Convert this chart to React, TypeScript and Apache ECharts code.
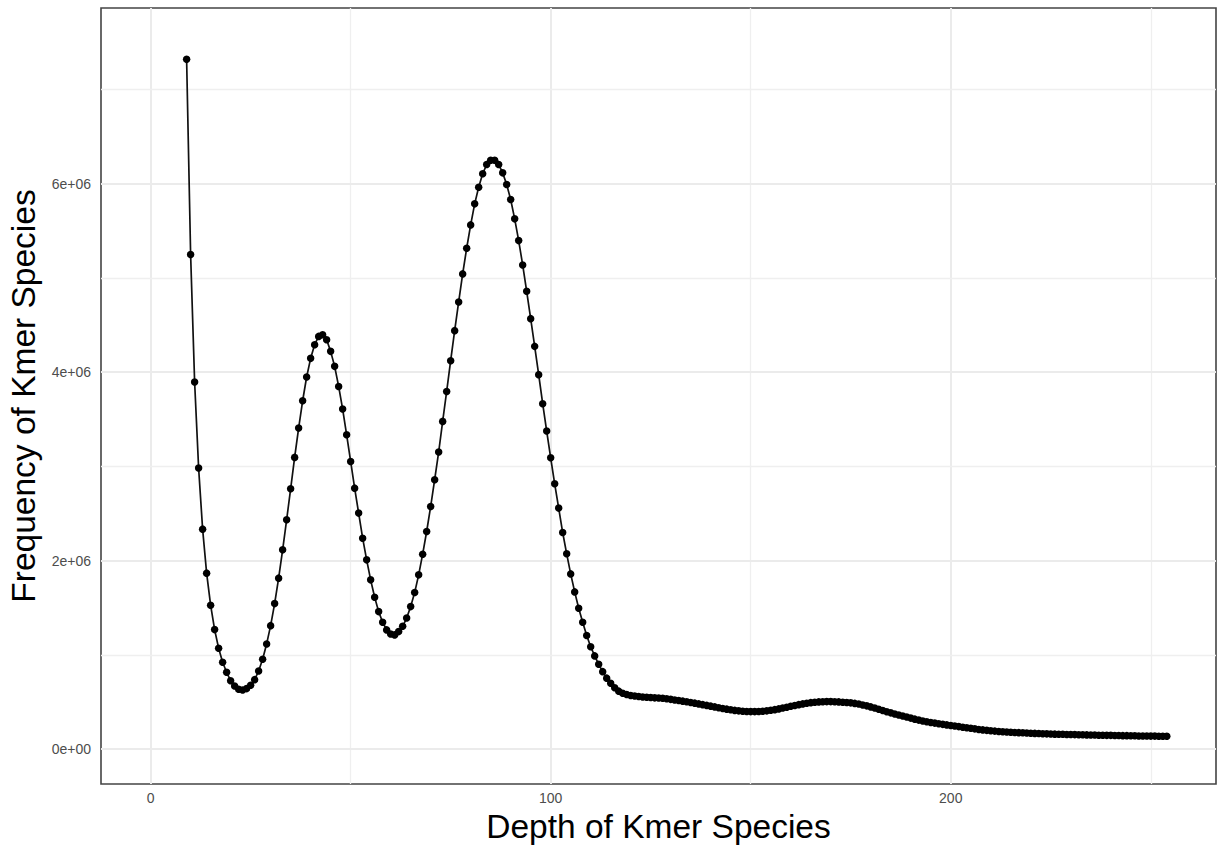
import React, { useEffect, useRef } from "react";
import * as echarts from "echarts";

// Depth of k-mer (x) and frequency in millions (y)
const depth: number[] = [
  9, 10, 11, 12, 13, 14, 15, 16, 17, 18,
  19, 20, 21, 22, 23, 24, 25, 26, 27, 28,
  29, 30, 31, 32, 33, 34, 35, 36, 37, 38,
  39, 40, 41, 42, 43, 44, 45, 46, 47, 48,
  49, 50, 51, 52, 53, 54, 55, 56, 57, 58,
  59, 60, 61, 62, 63, 64, 65, 66, 67, 68,
  69, 70, 71, 72, 73, 74, 75, 76, 77, 78,
  79, 80, 81, 82, 83, 84, 85, 86, 87, 88,
  89, 90, 91, 92, 93, 94, 95, 96, 97, 98,
  99, 100, 101, 102, 103, 104, 105, 106, 107, 108,
  109, 110, 111, 112, 113, 114, 115, 116, 117, 118,
  119, 120, 121, 122, 123, 124, 125, 126, 127, 128,
  129, 130, 131, 132, 133, 134, 135, 136, 137, 138,
  139, 140, 141, 142, 143, 144, 145, 146, 147, 148,
  149, 150, 151, 152, 153, 154, 155, 156, 157, 158,
  159, 160, 161, 162, 163, 164, 165, 166, 167, 168,
  169, 170, 171, 172, 173, 174, 175, 176, 177, 178,
  179, 180, 181, 182, 183, 184, 185, 186, 187, 188,
  189, 190, 191, 192, 193, 194, 195, 196, 197, 198,
  199, 200, 201, 202, 203, 204, 205, 206, 207, 208,
  209, 210, 211, 212, 213, 214, 215, 216, 217, 218,
  219, 220, 221, 222, 223, 224, 225, 226, 227, 228,
  229, 230, 231, 232, 233, 234, 235, 236, 237, 238,
  239, 240, 241, 242, 243, 244, 245, 246, 247, 248,
  249, 250, 251, 252, 253, 254,
];

const freqMillions: number[] = [
  7.317, 5.246, 3.894, 2.981, 2.333, 1.866, 1.526, 1.267, 1.069, 0.921,
  0.814, 0.725, 0.669, 0.634, 0.627, 0.641, 0.676, 0.736, 0.828, 0.952,
  1.115, 1.309, 1.543, 1.813, 2.113, 2.432, 2.761, 3.094, 3.405, 3.695,
  3.947, 4.145, 4.29, 4.378, 4.396, 4.343, 4.219, 4.06, 3.847, 3.607,
  3.334, 3.051, 2.768, 2.503, 2.237, 2.007, 1.795, 1.611, 1.458, 1.345,
  1.264, 1.221, 1.211, 1.246, 1.302, 1.39, 1.511, 1.66, 1.848, 2.067,
  2.308, 2.573, 2.857, 3.151, 3.476, 3.794, 4.12, 4.439, 4.743, 5.041,
  5.313, 5.561, 5.784, 5.961, 6.103, 6.202, 6.247, 6.247, 6.202, 6.113,
  5.989, 5.83, 5.625, 5.394, 5.136, 4.856, 4.566, 4.272, 3.972, 3.664,
  3.374, 3.09, 2.814, 2.556, 2.297, 2.071, 1.858, 1.667, 1.494, 1.345,
  1.205, 1.085, 0.988, 0.899, 0.821, 0.752, 0.698, 0.65, 0.614, 0.592,
  0.578, 0.568, 0.562, 0.557, 0.552, 0.549, 0.546, 0.543, 0.541, 0.538,
  0.533, 0.527, 0.52, 0.514, 0.508, 0.501, 0.494, 0.487, 0.479, 0.471,
  0.463, 0.455, 0.447, 0.438, 0.43, 0.423, 0.416, 0.41, 0.405, 0.401,
  0.398, 0.397, 0.397, 0.398, 0.401, 0.405, 0.411, 0.418, 0.426, 0.435,
  0.444, 0.453, 0.462, 0.471, 0.479, 0.486, 0.492, 0.497, 0.5, 0.502,
  0.503, 0.503, 0.502, 0.5, 0.497, 0.494, 0.49, 0.484, 0.477, 0.468,
  0.458, 0.447, 0.435, 0.422, 0.409, 0.396, 0.384, 0.372, 0.361, 0.35,
  0.339, 0.328, 0.317, 0.307, 0.298, 0.29, 0.282, 0.275, 0.268, 0.262,
  0.256, 0.25, 0.244, 0.238, 0.232, 0.226, 0.22, 0.214, 0.208, 0.203,
  0.198, 0.194, 0.19, 0.186, 0.183, 0.18, 0.178, 0.176, 0.174, 0.172,
  0.17, 0.168, 0.166, 0.164, 0.162, 0.161, 0.16, 0.158, 0.157, 0.156,
  0.155, 0.154, 0.153, 0.152, 0.151, 0.15, 0.149, 0.148, 0.147, 0.146,
  0.145, 0.145, 0.144, 0.143, 0.142, 0.142, 0.141, 0.14, 0.139, 0.139,
  0.138, 0.137, 0.137, 0.136, 0.136, 0.135,
];

// Tick labels and grid positions
const xTicks: number[] = [0, 100, 200];
const xMinorGrid: number[] = [50, 150, 250];
const yTicks: number[] = [0, 2e6, 4e6, 6e6];
const yMinorGrid: number[] = [1e6, 3e6, 5e6, 7e6];

const xTitle = "Depth of Kmer Species";
const yTitle = "Frequency of Kmer Species";

const FONT = "'Liberation Sans', Arial, Helvetica, sans-serif";

function sciLabel(v: number): string {
  const s = v.toExponential();
  const [m, e] = s.split("e");
  const sign = e[0];
  const digits = e.slice(1).padStart(2, "0");
  return `${m}e${sign}${digits}`;
}

export default function App() {
  const ref = useRef<HTMLDivElement>(null);

  useEffect(() => {
    if (!ref.current) return;
    const chart = echarts.init(ref.current, undefined, { renderer: "svg" });

    const points = depth.map((d, i) => [d, freqMillions[i] * 1e6]);

    const gridMajor = { color: "#EBEBEB", width: 2, type: "solid" as const };
    const gridMinor = { color: "#EFEFEF", width: 1.3, type: "solid" as const };

    const markData: any[] = [
      ...xTicks.map((v) => ({ xAxis: v, lineStyle: gridMajor })),
      ...xMinorGrid.map((v) => ({ xAxis: v, lineStyle: gridMinor })),
      ...yTicks.map((v) => ({ yAxis: v, lineStyle: gridMajor })),
      ...yMinorGrid.map((v) => ({ yAxis: v, lineStyle: gridMinor })),
    ];

    chart.setOption({
      animation: false,
      backgroundColor: "#ffffff",
      grid: {
        left: 101,
        top: 8,
        right: 3,
        bottom: 62,
        show: true,
        borderColor: "#444444",
        borderWidth: 1.6,
        backgroundColor: "#ffffff",
        containLabel: false,
        outerBoundsMode: "none",
      },
      xAxis: {
        type: "value",
        min: -12.4,
        max: 266.3,
        name: xTitle,
        nameLocation: "middle",
        nameGap: 23,
        nameTextStyle: { fontSize: 33.5, color: "#000000", fontFamily: FONT },
        axisLine: { show: false },
        splitLine: { show: false },
        axisTick: {
          show: true,
          customValues: xTicks,
          length: 5,
          lineStyle: { color: "#444444", width: 1.5 },
        },
        axisLabel: {
          customValues: xTicks,
          margin: 7,
          fontSize: 14,
          color: "#4D4D4D",
          fontFamily: FONT,
          formatter: (v: number) => String(v),
        },
      },
      yAxis: {
        type: "value",
        min: -0.371e6,
        max: 7.862e6,
        name: yTitle,
        nameLocation: "middle",
        nameGap: 57,
        nameTextStyle: { fontSize: 33.5, color: "#000000", fontFamily: FONT },
        axisLine: { show: false },
        splitLine: { show: false },
        axisTick: {
          show: true,
          customValues: yTicks,
          length: 5,
          lineStyle: { color: "#444444", width: 1.5 },
        },
        axisLabel: {
          customValues: yTicks,
          margin: 10,
          fontSize: 14,
          color: "#4D4D4D",
          fontFamily: FONT,
          formatter: (v: number) => sciLabel(v),
        },
      },
      series: [
        {
          type: "line",
          data: [],
          z: 1,
          silent: true,
          markLine: {
            silent: true,
            z: 1,
            symbol: "none",
            label: { show: false },
            animation: false,
            data: markData,
          },
        },
        {
          type: "line",
          data: points,
          z: 3,
          showSymbol: true,
          showAllSymbol: true,
          symbol: "circle",
          symbolSize: 7.5,
          lineStyle: { color: "#111111", width: 1.7 },
          itemStyle: { color: "#000000", borderWidth: 0 },
          silent: true,
        },
      ],
    });

    return () => {
      chart.dispose();
    };
  }, []);

  return (
    <div
      ref={ref}
      style={{ position: "fixed", left: 0, top: 0, width: 1219, height: 846 }}
    />
  );
}
